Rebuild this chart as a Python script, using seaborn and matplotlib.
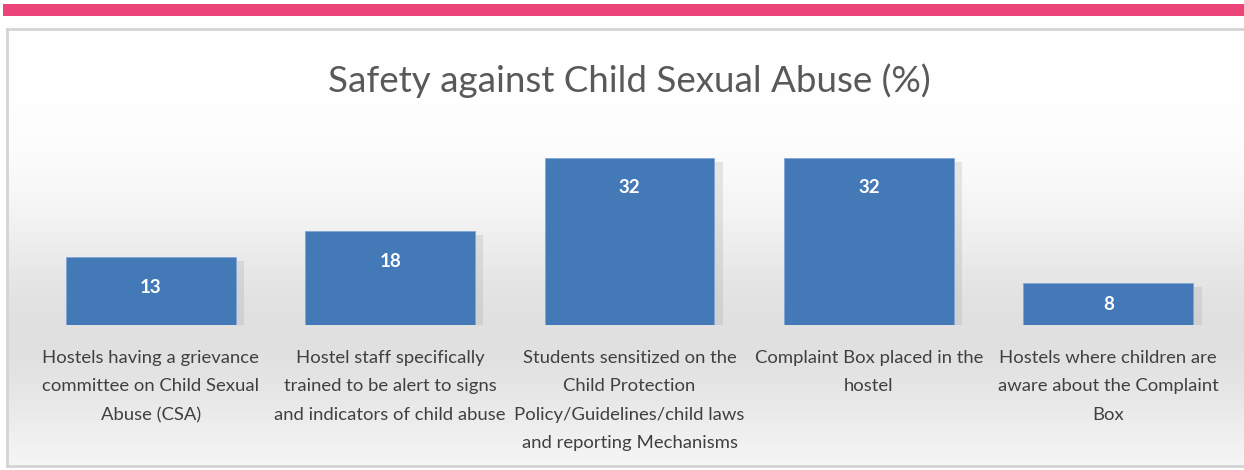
import numpy as np
import pandas as pd
import matplotlib
matplotlib.use("Agg")
import matplotlib.pyplot as plt
import seaborn as sns
from matplotlib.patches import Rectangle
import matplotlib.patheffects as pe

categories = [
    "Hostels having a grievance\ncommittee on Child Sexual\nAbuse (CSA)",
    "Hostel staff specifically\ntrained to be alert to signs\nand indicators of child abuse",
    "Students sensitized on the\nChild Protection\nPolicy/Guidelines/child laws\nand reporting Mechanisms",
    "Complaint Box placed in the\nhostel",
    "Hostels where children are\naware about the Complaint\nBox",
]
values = [13, 18, 32, 32, 8]
title = "Safety against Child Sexual Abuse (%)"

sns.set_theme(style="white")
plt.rcParams['font.family'] = ['Lato', 'DejaVu Sans']

W, H = 1244, 470
fig = plt.figure(figsize=(W / 100, H / 100), dpi=100)
fig.patch.set_facecolor("white")

def fx(px):
    return px / W

def fy(py):
    return 1 - py / H

# pink top band
fig.patches.append(Rectangle((fx(3), fy(16)), fx(1241), 12 / H, transform=fig.transFigure,
                             facecolor="#EB4479", edgecolor="none", zorder=0))

# background box with vertical gradient
bg = fig.add_axes([fx(7), fy(466), fx(1237), (466 - 29) / H], zorder=0)
yy = np.linspace(0, 1, 200)
prof = np.exp(-((yy - 0.70) / 0.28) ** 2)
shade = 1 - 0.12 * prof
img = np.repeat(shade[:, None], 10, axis=1)
bg.imshow(np.dstack([img, img, img]), aspect="auto", extent=[0, 1, 0, 1], interpolation="bilinear")
bg.set_xlim(0, 1); bg.set_ylim(0, 1)
for s in bg.spines.values():
    s.set_color("#d4d4d4")
    s.set_linewidth(2)
bg.spines["right"].set_visible(False)
bg.set_xticks([]); bg.set_yticks([])

# main axes
ax = fig.add_axes([fx(31), fy(325), fx(1228 - 31), (325 - 147.5) / H], zorder=2)
ax.patch.set_alpha(0)
df = pd.DataFrame({"cat": categories, "val": values})
sns.barplot(data=df, x="cat", y="val", color="#4479B8", saturation=1, width=0.71, ax=ax,
            edgecolor="#7fa6d3", linewidth=0.6)
for p in ax.patches:
    p.set_path_effects([pe.SimplePatchShadow(offset=(6, -3), shadow_rgbFace="#8a8a8a", alpha=0.18),
                        pe.Normal()])
ax.set_ylim(0, 34)
ax.set_xlim(-0.5, len(values) - 0.5)
ax.set_xlabel(""); ax.set_ylabel("")
ax.set_yticks([])
for s in ax.spines.values():
    s.set_visible(False)
ax.tick_params(axis="x", length=0, pad=18)
for lab in ax.get_xticklabels():
    lab.set_fontsize(13.3)
    lab.set_color("#404040")
    lab.set_linespacing(1.95)
    lab.set_va("top")

# value labels, inside end
px_per_unit = (325 - 147.5) / 34
for i, v in enumerate(values):
    hpx = v * px_per_unit
    off = min(30, hpx / 2)
    ax.annotate(str(v), xy=(i, v), xytext=(0, -off * 0.72), textcoords="offset points",
                ha="center", va="center", color="white", fontsize=13.5, fontweight="bold")

fig.text(fx(629), fy(81), title, ha="center", va="center", fontsize=26.5, color="#595959")

fig.savefig("out.png", dpi=100)
